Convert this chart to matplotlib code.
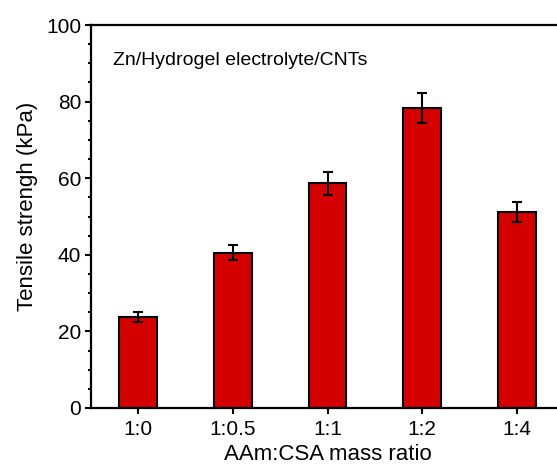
import numpy as np
import matplotlib.pyplot as plt
from matplotlib.ticker import MultipleLocator

plt.rcParams['font.family'] = ['Liberation Sans', 'DejaVu Sans']

# tensile strength of the hydrogel for each AAm:CSA mass ratio
ratios = ['1:0', '1:0.5', '1:1', '1:2', '1:4']
strength = [23.8, 40.6, 58.7, 78.3, 51.2]
strength_err = [1.3, 2.0, 3.0, 3.9, 2.6]

fig = plt.figure(figsize=(5.57, 4.65), dpi=100)
ax = fig.add_axes([0.1634, 0.1226, 0.8492, 0.8236])

x = np.arange(len(ratios))
ax.bar(x, strength, width=0.4, color='#d40000', edgecolor='black', linewidth=1.5,
       yerr=strength_err, capsize=3.5,
       error_kw={'elinewidth': 1.5, 'capthick': 1.5, 'ecolor': 'black'}, zorder=2)

ax.set_xlim(-0.5, 4.5)
ax.set_ylim(0, 100)
ax.set_xticks(x)
ax.set_xticklabels(ratios)
ax.yaxis.set_major_locator(MultipleLocator(20))
ax.yaxis.set_minor_locator(MultipleLocator(5))

for side in ['left', 'bottom', 'top']:
    ax.spines[side].set_linewidth(1.6)
ax.spines['right'].set_visible(False)

ax.tick_params(axis='both', which='major', direction='out', length=4, width=1.5,
               labelsize=15, pad=3)
ax.tick_params(axis='x', which='major', pad=5)
ax.tick_params(axis='y', which='minor', direction='out', length=2.5, width=1.5)

ax.set_xlabel('AAm:CSA mass ratio', fontsize=16, labelpad=3)
ax.set_ylabel('Tensile strengh (kPa)', fontsize=16)
ax.yaxis.set_label_coords(-0.112, 0.527)

ax.text(-0.27, 90.8, 'Zn/Hydrogel electrolyte/CNTs', fontsize=14, va='center', ha='left')

fig.savefig('out.png', dpi=100)
